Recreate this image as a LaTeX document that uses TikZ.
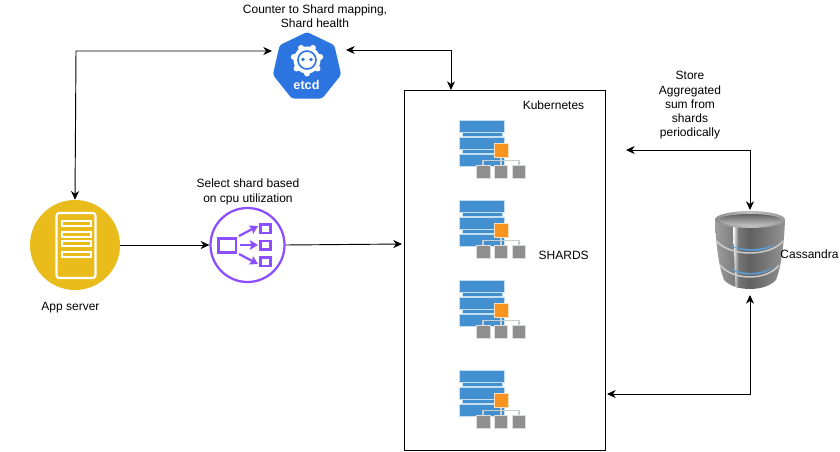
\documentclass[tikz,border=0pt]{standalone}
\usepackage{fontspec}
\setmainfont{Liberation Sans}
\usetikzlibrary{shapes.geometric,arrows.meta}

\definecolor{appyellow}{HTML}{E9BC1B}
\definecolor{lbpurple}{HTML}{8C4FFF}
\definecolor{etcdblue}{HTML}{2C74E0}
\definecolor{shardblue}{HTML}{4290D0}
\definecolor{shardorange}{HTML}{F7931E}
\definecolor{shardgray}{HTML}{8F8F8F}
\definecolor{shardline}{HTML}{C8CDD0}
\definecolor{cassglow}{HTML}{5AA2DE}

\tikzset{
    label/.style={font=\fontsize{9}{10.7}\selectfont,align=center,inner sep=0},
    link/.style={black,line width=0.7pt,{Stealth[length=6.5pt,width=6pt,inset=2pt]}-{Stealth[length=6.5pt,width=6pt,inset=2pt]}},
    linkend/.style={black,line width=0.7pt,-{Stealth[length=6.5pt,width=6pt,inset=2pt]}},
    barshard/.style={fill=shardblue,draw=white!70!shardblue,line width=0.3pt},
    leaf/.style={fill=shardgray,draw=white!70!shardgray,line width=0.3pt},
    purple/.style={draw=lbpurple,line width=1.8pt},
    lbarrow/.style={lbpurple,line width=1.7pt,-{Stealth[length=6pt,width=7pt,inset=1pt]}},
    pics/shard/.style={code={
        \draw[barshard] (459,120) rectangle (504,132);
        \draw[barshard] (462,132.5) rectangle (502,136.5);
        \draw[barshard] (459,137) rectangle (504,149);
        \draw[barshard] (462,149.5) rectangle (502,153.5);
        \draw[barshard] (459,154) rectangle (504,166);
        \draw[shardline,line width=1pt] (483,165)--(483,160.5)--(519,160.5)--(519,165);
        \draw[shardline,line width=1pt] (501,155)--(501,165);
        \draw[fill=shardorange,draw=white!70!shardorange,line width=0.3pt] (494.5,143.5) rectangle (508,157);
        \draw[leaf] (476.5,165) rectangle (490,178);
        \draw[leaf] (494.5,165) rectangle (507,178);
        \draw[leaf] (512,165) rectangle (525,178);
    }}
}

\begin{document}
\begin{tikzpicture}[x=0.75pt,y=-0.75pt]
    \useasboundingbox (0,0) rectangle (840,451);

    % kubernetes box
    \node (k8s) at (504.5,270) [draw,line width=0.5pt,minimum width=151pt,minimum height=270pt,inner sep=0] {};
    \coordinate (k8stop) at (451,90);
    \coordinate (k8sleft) at (402,244);
    \coordinate (k8sstore) at (626,150);
    \coordinate (k8sread) at (607,394);
    \node (k8slabel) at (553.5,105.5) [label] {Kubernetes};
    \node (shardslabel) at (563.7,255) [label] {SHARDS};

    \pic at (0,0) {shard};
    \pic at (0,80) {shard};
    \pic at (0,160) {shard};
    \pic at (0,250) {shard};

    % etcd
    \node (etcd) at (307,67) [regular polygon,regular polygon sides=7,minimum size=52.5pt,inner sep=0,fill=etcdblue,rounded corners=2pt] {};
    \coordinate (etcdleft) at (272,51);
    \coordinate (etcdright) at (346,50);
    \fill[white] (307,60) circle[radius=13.5];
    \foreach \a in {90,141,193,244,296,347,39}
        \fill[white] (307,60)++(\a:13.5) circle[radius=3];
    \draw[etcdblue,line width=1.2pt] (307,60) circle[radius=9];
    \fill[etcdblue] (303,59.5) circle[radius=1.8];
    \fill[etcdblue] (311,59.5) circle[radius=1.8];
    \node (etcdname) at (306.5,84.5) [label,white,font=\fontsize{9.5}{10}\selectfont\bfseries] {etcd};
    \node (etcdlabel) at (315,16) [label] {Counter to Shard mapping,\\Shard health};

    % app server
    \node (app) at (75,245) [circle,fill=appyellow,minimum size=67.5pt,inner sep=0] {};
    \draw[white,line width=1.6pt,rounded corners=2pt] (56.5,278) -- (56.5,213) -- (95.5,213) -- (95.5,278) -- cycle;
    \foreach \y in {221,232,241,252}
        \draw[white,line width=1.5pt] (62,\y) rectangle (91,\y+5);
    \node (applabel) at (70.5,308) [label] {App server};

    % load balancer
    \node (lb) at (247.5,245) [circle,draw=lbpurple,line width=1.7pt,minimum size=55.5pt,inner sep=0] {};
    \draw[purple] (218.5,238.5) rectangle (236,252.5);
    \draw[purple] (260.5,224.5) rectangle (270.5,233);
    \draw[purple] (260.5,241) rectangle (270.5,249.5);
    \draw[purple] (260.5,257.5) rectangle (270.5,266);
    \draw[lbarrow] (239,236)--(258,226);
    \draw[lbarrow] (240,245)--(258,245);
    \draw[lbarrow] (239,254)--(258,264);
    \node (lblabel) at (248,192) [label] {Select shard based\\on cpu utilization};

    % cassandra
    \coordinate (casstop) at (750,210);
    \coordinate (cassbottom) at (750,295);
    \shade[left color=black!38,right color=black!42,middle color=black!62]
        (715,219) .. controls (716,250) and (720,270) .. (724,280)
        .. controls (735,292) and (765,292) .. (776,280)
        .. controls (780,270) and (784,250) .. (785,219) -- cycle;
    \shade[left color=white,right color=black!60] (733,226) -- (738.5,226) -- (739,288) -- (735.5,287) -- cycle;
    \draw[white!80!black,line width=1.1pt] (716.5,241) .. controls (730,257) and (770,257) .. (783,241);
    \draw[white!80!black,line width=1.1pt] (720,265) .. controls (733,281) and (767,281) .. (779,265);
    \fill[cassglow,opacity=0.85] (730,245) .. controls (742,250.5) and (760,250.5) .. (774,244.5)
        .. controls (766,253) and (740,253) .. (730,245) -- cycle;
    \fill[cassglow,opacity=0.85] (730,268) .. controls (742,274.5) and (760,274.5) .. (772,267.5)
        .. controls (764,277) and (738,277) .. (730,268) -- cycle;
    \shade[left color=black!45,right color=black!40,middle color=black!25] (750,219.5) ellipse[x radius=35,y radius=8.5];
    \shade[top color=black!62,bottom color=black!22] (750,220) ellipse[x radius=31,y radius=6];
    \node (cass) at (750,250) [minimum width=52pt,minimum height=58pt,inner sep=0] {};
    \node (casslabel) at (809.5,254.5) [label] {Cassandra};
    \node (storelabel) at (690,105.5) [label] {Store\\Aggregated\\sum from\\shards\\periodically};

    % connectors
    \draw[link] (etcdleft)--(76,51)--(app.north);
    \draw[link] (etcdright)--(451,50)--(k8stop);
    \draw[linkend] (app.east)--(lb.west);
    \draw[linkend] (lb.east)--(k8sleft);
    \draw[link] (k8sstore)--(750,150)--(casstop);
    \draw[link] (k8sread)--(750,394)--(cassbottom);
\end{tikzpicture}
\end{document}
